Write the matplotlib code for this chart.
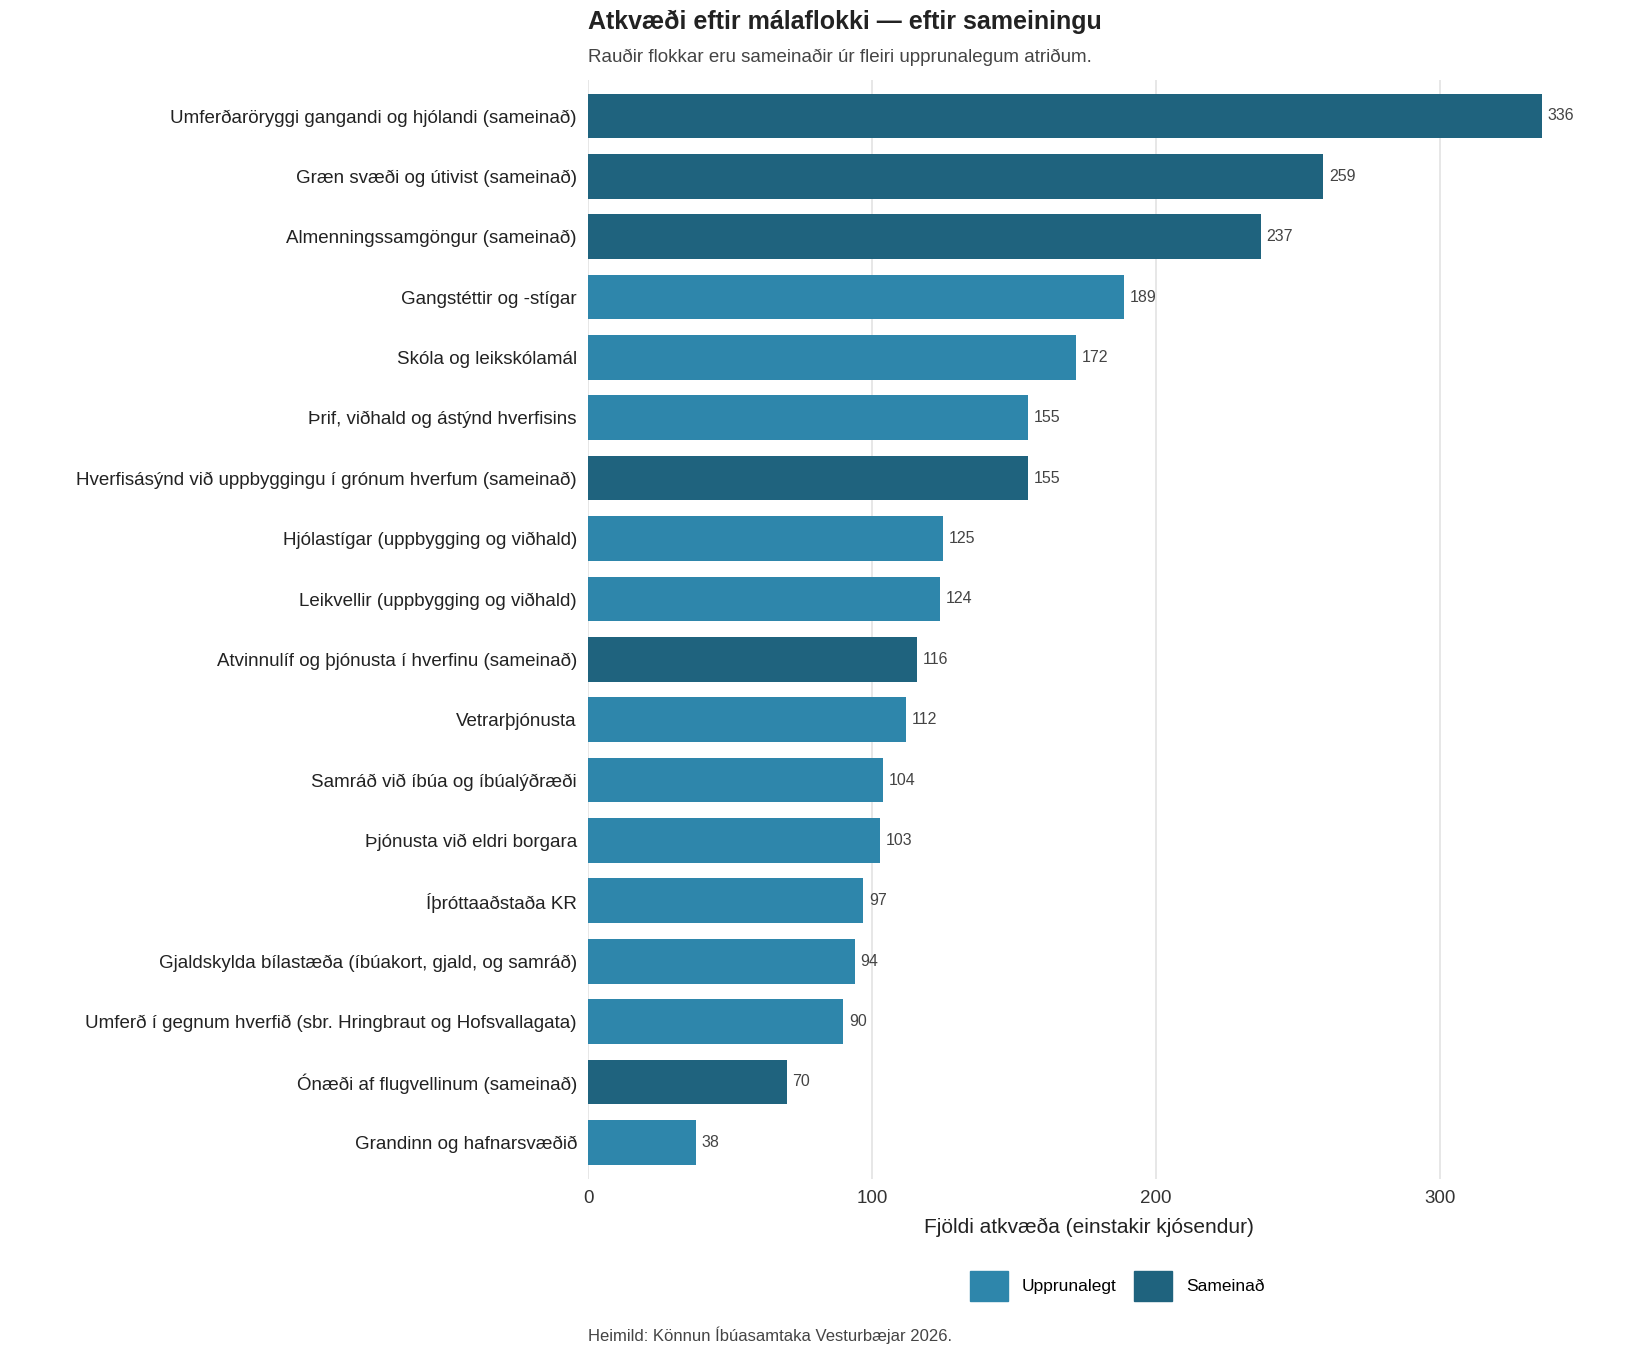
import matplotlib
matplotlib.use("Agg")
import matplotlib.pyplot as plt
from matplotlib.patches import Patch

plt.rcParams['font.family'] = ['Liberation Sans', 'DejaVu Sans']

categories = [
    "Umferðaröryggi gangandi og hjólandi (sameinað)",
    "Græn svæði og útivist (sameinað)",
    "Almenningssamgöngur (sameinað)",
    "Gangstéttir og -stígar",
    "Skóla og leikskólamál",
    "Þrif, viðhald og ástýnd hverfisins",
    "Hverfisásýnd við uppbyggingu í grónum hverfum (sameinað)",
    "Hjólastígar (uppbygging og viðhald)",
    "Leikvellir (uppbygging og viðhald)",
    "Atvinnulíf og þjónusta í hverfinu (sameinað)",
    "Vetrarþjónusta",
    "Samráð við íbúa og íbúalýðræði",
    "Þjónusta við eldri borgara",
    "Íþróttaaðstaða KR",
    "Gjaldskylda bílastæða (íbúakort, gjald, og samráð)",
    "Umferð í gegnum hverfið (sbr. Hringbraut og Hofsvallagata)",
    "Ónæði af flugvellinum (sameinað)",
    "Grandinn og hafnarsvæðið",
]
values = [336, 259, 237, 189, 172, 155, 155, 125, 124, 116, 112, 104, 103, 97, 94, 90, 70, 38]
merged = [True, True, True, False, False, False, True, False, False, True,
          False, False, False, False, False, False, True, False]

c_orig = "#2E86AB"
c_merged = "#1F637E"

fig = plt.figure(figsize=(16.5, 13.5), dpi=100)
ax = fig.add_axes([588/1650, 0.127, (1590-588)/1650, 0.814])

ys = list(range(len(categories)))
colors = [c_merged if m else c_orig for m in merged]
ax.barh(ys, values, height=0.74, color=colors, zorder=2)
for y, v in zip(ys, values):
    ax.text(v + 2, y, str(v), va='center', ha='left', fontsize=11.5, color='#444444')

ax.set_yticks(ys)
ax.set_yticklabels(categories, fontsize=13.5, color='#222222')
ax.set_ylim(len(categories) - 0.4, -0.6)
ax.set_xlim(0, 353)
ax.set_xticks([0, 100, 200, 300])
ax.tick_params(axis='x', labelsize=13.5, colors='#333333', length=0, pad=8)
ax.tick_params(axis='y', length=0, pad=8)
ax.grid(axis='x', color='#e3e3e3', linewidth=1.2, zorder=0)
for s in ax.spines.values():
    s.set_visible(False)
ax.set_xlabel("Fjöldi atkvæða (einstakir kjósendur)", fontsize=15, color='#222222', labelpad=8)

fig.text(588/1650, 1 - 22/1350, "Atkvæði eftir málaflokki — eftir sameiningu",
         fontsize=18, fontweight='bold', color='#222222', va='center', ha='left')
fig.text(588/1650, 1 - 57/1350, "Rauðir flokkar eru sameinaðir úr fleiri upprunalegum atriðum.",
         fontsize=13.5, color='#444444', va='center', ha='left')
fig.text(588/1650, 1 - 1335/1350, "Heimild: Könnun Íbúasamtaka Vesturbæjar 2026.",
         fontsize=12, color='#444444', va='center', ha='left')

handles = [Patch(color=c_orig, label="Upprunalegt"), Patch(color=c_merged, label="Sameinað")]
fig.legend(handles=handles, loc='center', bbox_to_anchor=(1117/1650, 1 - 1286/1350),
           ncol=2, frameon=False, fontsize=12.5, handlelength=2.2, handleheight=2.2,
           columnspacing=1.0)

fig.savefig("out.png", dpi=100, facecolor='white')
